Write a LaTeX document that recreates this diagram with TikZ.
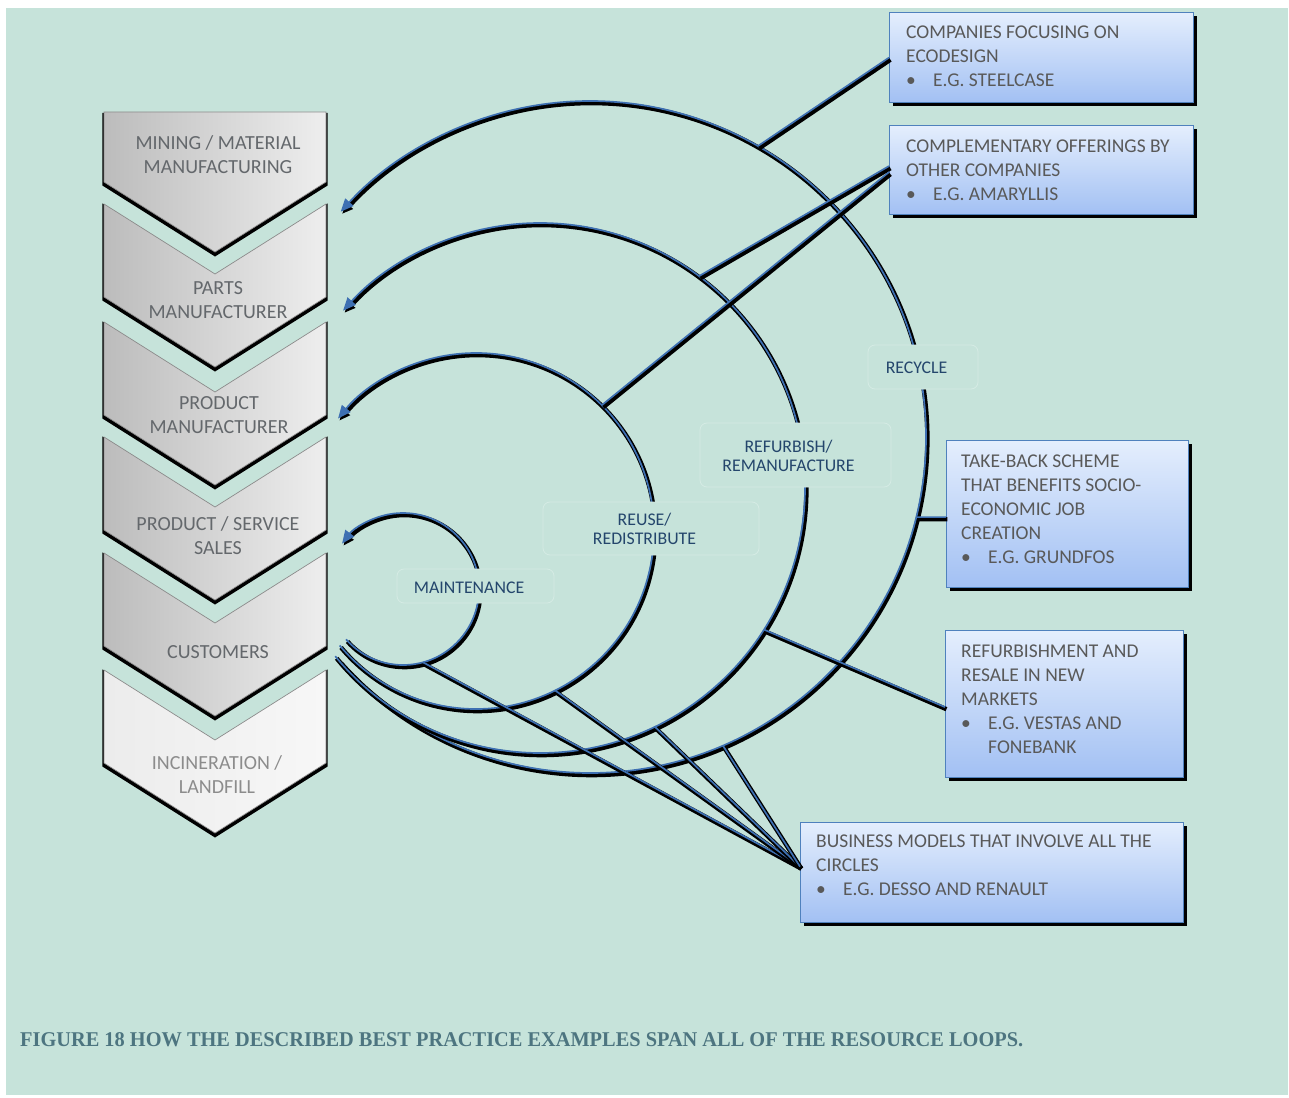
\documentclass[tikz,border=0pt]{standalone}
\usepackage{fontspec}
\usepackage{graphicx}
\setmainfont{Carlito}
\newfontfamily\captionserif{Liberation Serif}
\usetikzlibrary{arrows.meta,calc}

\definecolor{bgteal}{RGB}{198,227,218}
\definecolor{loopblue}{RGB}{62,112,178}
\definecolor{boxedge}{RGB}{79,129,189}
\definecolor{boxtop}{RGB}{228,238,253}
\definecolor{boxbottom}{RGB}{162,192,243}
\definecolor{greytext}{RGB}{89,89,89}
\definecolor{chevtext}{RGB}{100,104,108}
\definecolor{palechevtext}{RGB}{140,140,140}
\definecolor{labeltext}{RGB}{36,70,108}
\definecolor{labeledge}{RGB}{213,235,228}
\definecolor{captioncol}{RGB}{77,117,128}
\definecolor{chevleft}{RGB}{188,188,188}
\definecolor{chevright}{RGB}{238,238,238}
\definecolor{paleleft}{RGB}{236,236,236}
\definecolor{paleright}{RGB}{247,247,247}

\begin{document}
\begin{tikzpicture}[x=1pt,y=-1pt,
  loopline/.style={draw=loopblue,line width=1.7pt,
    preaction={draw=black,line width=4.4pt,
      transform canvas={shift={(1.4pt,-2.1pt)}}}},
  looparrow/.style={draw=loopblue,line width=1.7pt,
    -{Triangle[length=13pt,width=11pt]},
    preaction={draw=black,line width=4.4pt,-{Triangle[length=11pt,width=9pt]},
      transform canvas={shift={(1.4pt,-2.1pt)}}}},
  chevshadow/.style={fill=black,draw=black,line width=3.4pt,shift={(0,2.5)}},
  chevbody/.style={left color=chevleft,right color=chevright,draw=black!45,line width=0.7pt},
  chevpale/.style={left color=paleleft,right color=paleright,draw=black!45,line width=0.7pt},
  chevtxt/.style={text=chevtext,font=\fontsize{20}{24}\selectfont,anchor=base,inner sep=0pt},
  infobox/.style={draw=boxedge,line width=1.2pt,top color=boxtop,bottom color=boxbottom,
    inner sep=0pt,anchor=north west,
    preaction={fill=black,transform canvas={shift={(3pt,-3.5pt)}}}},
  boxtxt/.style={text=greytext,font=\fontsize{19.5}{24}\selectfont,anchor=base west,inner sep=0pt},
  lablbox/.style={draw=labeledge,line width=0.8pt,fill=bgteal,rounded corners=7pt,inner sep=0pt},
  labltxt/.style={text=labeltext,font=\fontsize{17.8}{19}\selectfont,align=center,inner sep=0pt}
]
% page and backdrop
\fill[white] (0,0) rectangle (1289,1097);
\useasboundingbox (0,0) rectangle (1289,1097);
\fill[bgteal] (6,8) rectangle (1288,1095);

% ---- value chain chevrons ----
\path[chevshadow] (104,112) -- (326,112) -- (326,182) -- (215,252) -- (104,182) -- cycle;
\path[chevbody] (104,112) -- (326,112) -- (326,182) -- (215,252) -- (104,182) -- cycle;
\foreach \T in {204,322,437,553}{
  \path[chevshadow] (104,\T) -- (215,\T+70) -- (326,\T) -- (326,\T+93) -- (215,\T+163) -- (104,\T+93) -- cycle;
  \path[chevbody] (104,\T) -- (215,\T+70) -- (326,\T) -- (326,\T+93) -- (215,\T+163) -- (104,\T+93) -- cycle;
}
\path[chevshadow] (104,670) -- (215,740) -- (326,670) -- (326,763) -- (215,833) -- (104,763) -- cycle;
\path[chevpale] (104,670) -- (215,740) -- (326,670) -- (326,763) -- (215,833) -- (104,763) -- cycle;

\node[chevtxt] (mining1) at (218,149) {MINING / MATERIAL};
\node[chevtxt] (mining2) at (218,173) {MANUFACTURING};
\node[chevtxt] (parts1) at (218,294) {PARTS};
\node[chevtxt] (parts2) at (218,318) {MANUFACTURER};
\node[chevtxt] (prod1) at (219,409) {PRODUCT};
\node[chevtxt] (prod2) at (219,433) {MANUFACTURER};
\node[chevtxt] (sales1) at (218,530) {PRODUCT / SERVICE};
\node[chevtxt] (sales2) at (218,554) {SALES};
\node[chevtxt] (cust) at (218,658) {CUSTOMERS};
\node[chevtxt,text=palechevtext] (land1) at (217,769) {INCINERATION /};
\node[chevtxt,text=palechevtext] (land2) at (217,793) {LANDFILL};

% ---- resource loops ----
\coordinate (oM) at (403,589);
\coordinate (oB) at (476,531);
\coordinate (oC) at (540,488);
\coordinate (oD) at (590,437);
\coordinate (sM) at ($(oM)+(138.5:76)$);
\coordinate (sB) at ($(oB)+(140:178)$);
\coordinate (sC) at ($(oC)+(140.6:265)$);
\coordinate (sD) at ($(oD)+(138.2:336)$);

\draw[looparrow] (sD) arc[start angle=138.2,end angle=-137.9,radius=336];
\draw[looparrow] (sC) arc[start angle=140.6,end angle=-138,radius=265];
\draw[looparrow] (sB) arc[start angle=140,end angle=-140.8,radius=178];
\draw[looparrow] (sM) arc[start angle=138.5,end angle=-143.3,radius=76];

% ---- example boxes ----
\node[infobox,minimum width=304pt,minimum height=90pt] (b1) at (889,12) {};
\node[infobox,minimum width=304pt,minimum height=89pt] (b2) at (889,125) {};
\node[infobox,minimum width=242pt,minimum height=147pt] (b3) at (946,440) {};
\node[infobox,minimum width=238pt,minimum height=147pt] (b4) at (945,630) {};
\node[infobox,minimum width=383pt,minimum height=100pt] (b5) at (800,822) {};

% ---- connectors from examples to loops ----
\coordinate (pD1) at ($(oD)+(-60:336)$);
\coordinate (pC2) at ($(oC)+(-53.1:265)$);
\coordinate (pB2) at ($(oB)+(-45:178)$);
\coordinate (pD3) at ($(oD)+(13.8:336)$);
\coordinate (pC4) at ($(oC)+(32.3:265)$);
\coordinate (pMf) at ($(oM)+(74.7:76)$);
\coordinate (pBf) at ($(oB)+(63.6:178)$);
\coordinate (pCf) at ($(oC)+(64.3:265)$);
\coordinate (pDf) at ($(oD)+(66.7:336)$);
\coordinate (b2a) at ($(b2.west)+(0,-4)$);
\coordinate (b2b) at ($(b2.west)+(0,2)$);
\coordinate (b3a) at ($(b3.west)+(0,3)$);
\coordinate (b4a) at ($(b4.west)+(0,3)$);
\coordinate (b5a) at ($(b5.west)+(0,-6)$);

\draw[loopline] (b1.west) -- (pD1);
\draw[loopline] (b2a) -- (pC2);
\draw[loopline] (b2b) -- (pB2);
\draw[loopline] (b3a) -- (pD3);
\draw[loopline] (b4a) -- (pC4);
\draw[loopline] (b5a) -- (pMf);
\draw[loopline] (b5a) -- (pBf);
\draw[loopline] (b5a) -- (pCf);
\draw[loopline] (b5a) -- (pDf);

% ---- loop labels ----
\node[lablbox,minimum width=157pt,minimum height=34pt] (lmaint) at (475.5,586) {};
\node[lablbox,minimum width=216pt,minimum height=53pt] (lreuse) at (651,528.5) {};
\node[lablbox,minimum width=191pt,minimum height=64pt] (lrefurb) at (795.5,455) {};
\node[lablbox,minimum width=110pt,minimum height=44pt] (lrecyc) at (923,367) {};
\node[labltxt] (tmaint) at (469,587.5) {MAINTENANCE};
\node[labltxt] (treuse) at (644.5,529) {REUSE/\\REDISTRIBUTE};
\node[labltxt] (trefurb) at (788.5,456) {REFURBISH/\\REMANUFACTURE};
\node[labltxt] (trecyc) at (916.5,368) {RECYCLE};

% ---- box texts ----
\node[boxtxt] (t11) at (906,39) {COMPANIES FOCUSING ON};
\node[boxtxt] (t12) at (906,63) {ECODESIGN};
\node[boxtxt] (t13) at (906,87) {\makebox[27pt][l]{\textbullet}E.G. STEELCASE};

\node[boxtxt] (t21) at (906,152) {COMPLEMENTARY OFFERINGS BY};
\node[boxtxt] (t22) at (906,176) {OTHER COMPANIES};
\node[boxtxt] (t23) at (906,200) {\makebox[27pt][l]{\textbullet}E.G. AMARYLLIS};

\node[boxtxt] (t31) at (961,467) {TAKE-BACK SCHEME};
\node[boxtxt] (t32) at (961,491) {THAT BENEFITS SOCIO-};
\node[boxtxt] (t33) at (961,515) {ECONOMIC JOB};
\node[boxtxt] (t34) at (961,539) {CREATION};
\node[boxtxt] (t35) at (961,563) {\makebox[27pt][l]{\textbullet}E.G. GRUNDFOS};

\node[boxtxt] (t41) at (961,657) {REFURBISHMENT AND};
\node[boxtxt] (t42) at (961,681) {RESALE IN NEW};
\node[boxtxt] (t43) at (961,705) {MARKETS};
\node[boxtxt] (t44) at (961,729) {\makebox[27pt][l]{\textbullet}E.G. VESTAS AND};
\node[boxtxt] (t45) at (988,753) {FONEBANK};

\node[boxtxt] (t51) at (816,847) {BUSINESS MODELS THAT INVOLVE ALL THE};
\node[boxtxt] (t52) at (816,871) {CIRCLES};
\node[boxtxt] (t53) at (816,895) {\makebox[27pt][l]{\textbullet}E.G. DESSO AND RENAULT};

% ---- caption ----
\node[anchor=base west,inner sep=0pt,text=captioncol,
  font=\captionserif\bfseries\fontsize{21}{25}\selectfont] (caption) at (20,1046)
  {\resizebox{1003pt}{\height}{FIGURE 18 HOW THE DESCRIBED BEST PRACTICE EXAMPLES SPAN ALL OF THE RESOURCE LOOPS.}};
\end{tikzpicture}
\end{document}
